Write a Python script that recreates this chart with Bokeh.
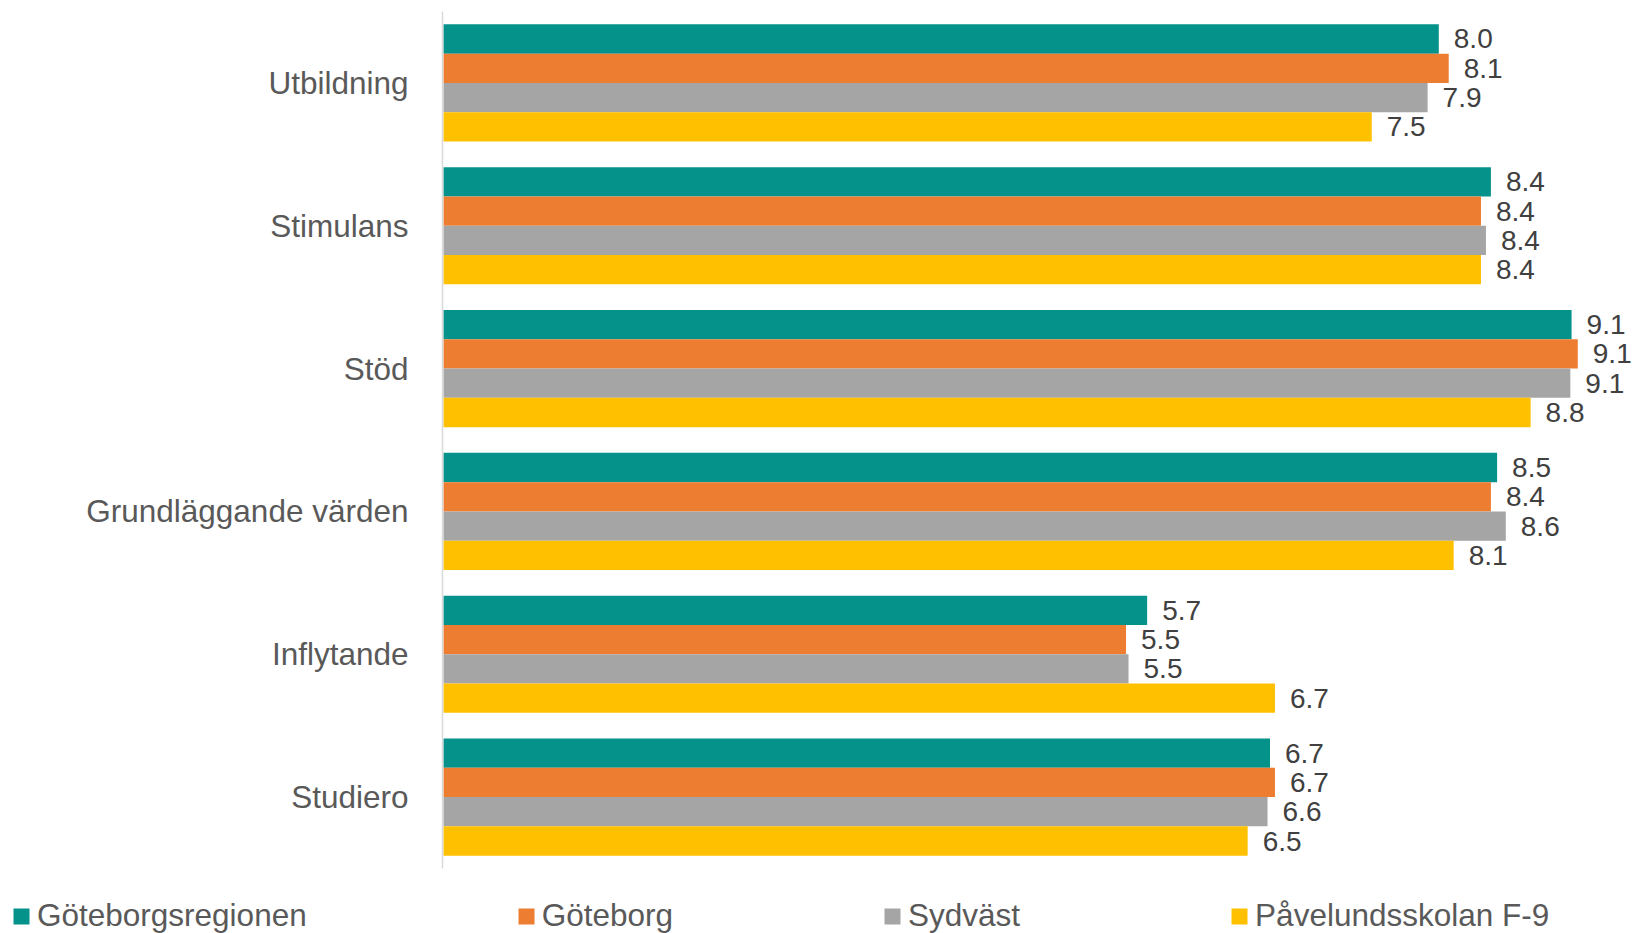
from bokeh.plotting import figure
from bokeh.layouts import column, row
from bokeh.models import FactorRange, ColumnDataSource, Legend, LegendItem, Range1d
from bokeh.transform import dodge
from bokeh.core.properties import value
from bokeh.embed import file_html
from bokeh.resources import INLINE

categories = ["Utbildning", "Stimulans", "Stöd", "Grundläggande värden", "Inflytande", "Studiero"]
series_names = ["Göteborgsregionen", "Göteborg", "Sydväst", "Påvelundsskolan F-9"]
goteborgsregionen = [8.02, 8.44, 9.09, 8.49, 5.67, 6.66]
goteborg = [8.10, 8.36, 9.14, 8.44, 5.50, 6.70]
sydvast = [7.93, 8.40, 9.08, 8.56, 5.52, 6.64]
pavelundsskolan = [7.48, 8.36, 8.76, 8.14, 6.70, 6.48]
colors = ["#05928A", "#ED7D31", "#A5A5A5", "#FFC000"]

series_values = [goteborgsregionen, goteborg, sydvast, pavelundsskolan]

FONT = "Liberation Sans"
BAR_H = 0.205
offsets = [1.5 * BAR_H, 0.5 * BAR_H, -0.5 * BAR_H, -1.5 * BAR_H]

p = figure(
    width=1633, height=875,
    y_range=FactorRange(factors=categories[::-1], range_padding=0),
    x_range=Range1d(-0.008, 9.589),
    output_backend="svg", toolbar_location=None,
    min_border_left=442, min_border_top=11, min_border_right=0, min_border_bottom=7,
)
p.outline_line_color = None
p.xgrid.visible = False
p.ygrid.visible = False
p.xaxis.visible = False
p.background_fill_color = None
p.border_fill_color = "white"

for name, vals, col, off in zip(series_names, series_values, colors, offsets):
    src = ColumnDataSource(dict(cat=categories, v=vals, lab=[f"{x:.1f}" for x in vals]))
    p.hbar(y=dodge("cat", off, range=p.y_range), right="v", left=0, height=BAR_H,
           source=src, fill_color=col, line_color=None)
    p.text(x="v", y=dodge("cat", off, range=p.y_range), text="lab", source=src,
           x_offset=15, text_align="left", text_baseline="middle",
           text_font=value(FONT), text_font_size="28px", text_color="#404040")

ax = p.yaxis[0]
ax.axis_line_color = "#D9D9D9"
ax.axis_line_width = 1.5
ax.major_tick_line_color = None
ax.minor_tick_line_color = None
ax.major_label_text_font = FONT
ax.major_label_text_font_size = "31.5px"
ax.major_label_text_color = "#595959"
ax.major_label_standoff = 28

# legend strip below the chart
leg = figure(width=1633, height=58, x_range=Range1d(0, 1), y_range=Range1d(0, 1),
             output_backend="svg", toolbar_location=None,
             x_axis_location=None, y_axis_location=None,
             min_border_left=0, min_border_right=0, min_border_top=0, min_border_bottom=0)
leg.outline_line_color = None
leg.xgrid.visible = False
leg.ygrid.visible = False
leg.background_fill_color = None
leg.border_fill_color = "white"

items = []
for name, col in zip(series_names, colors):
    # legend swatch only: one point placed outside the visible range
    r = leg.hbar(y=[-10], right=[1], left=0, height=0.5, fill_color=col, line_color=None)
    items.append(LegendItem(label=name, renderers=[r]))

legend = Legend(items=items, orientation="horizontal", location=(11, -1),
                spacing=209, label_standoff=6, glyph_width=20, glyph_height=20,
                padding=0, margin=0, border_line_alpha=0, background_fill_alpha=0,
                label_text_font=FONT, label_text_font_size="31.5px",
                label_text_color="#595959")
leg.add_layout(legend, "center")

layout = column(p, row(leg, spacing=0), spacing=0)
open("out.html", "w").write(file_html(layout, INLINE))
